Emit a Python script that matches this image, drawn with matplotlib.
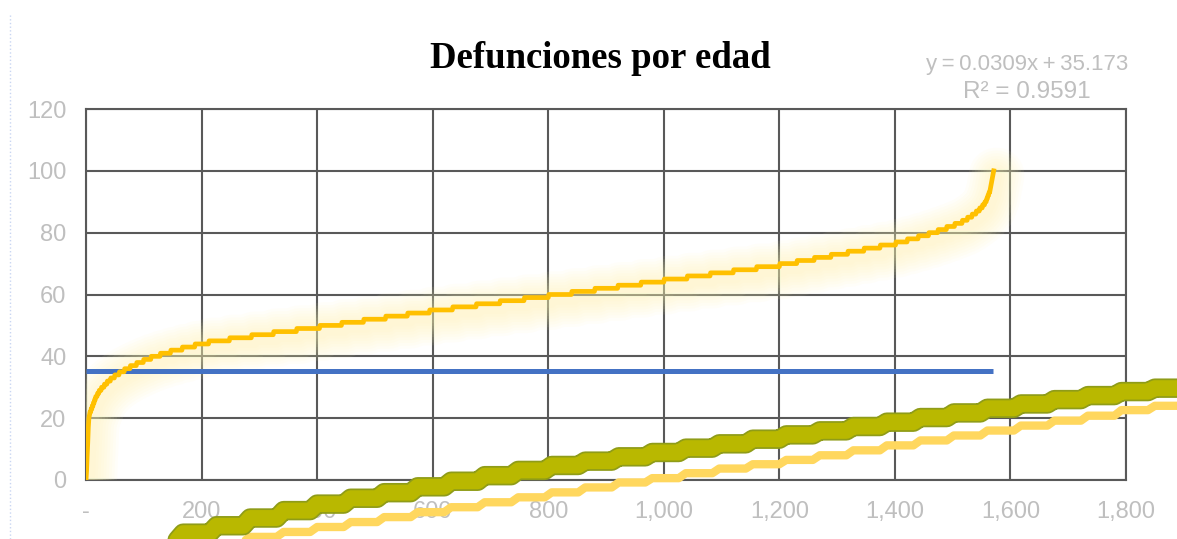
import numpy as np
import matplotlib
matplotlib.use("Agg")
import matplotlib.pyplot as plt
import matplotlib.patheffects as pe
from matplotlib.lines import Line2D

# deaths per age (ages 0..100), sorted ages are plotted against their rank
age_values = np.arange(101)
deaths_per_age = [
    1, 0, 0, 1, 0, 0, 0, 0, 1, 0, 0, 0, 1, 0, 0, 0, 0, 1, 0, 0,   # 0-19
    1, 1, 2, 2, 2,          # 20-24
    2, 2, 3, 3, 4,          # 25-29
    5, 5, 6, 7, 8,          # 30-34
    9, 10, 11, 12, 13,      # 35-39
    16, 18, 20, 22, 24,     # 40-44
    36, 38, 38, 40, 40,     # 45-49
    38, 38, 38, 38, 38,     # 50-54
    40, 41, 41, 42, 42,     # 55-59
    40, 40, 40, 40, 40,     # 60-64
    40, 40, 40, 40, 40,     # 65-69
    30, 30, 29, 29, 28, 28, 27,   # 70-76
    20, 19, 18,             # 77-79
    16, 15, 14, 13,         # 80-83
    9, 8, 7, 6, 5, 4,       # 84-89
    3, 2, 2, 2, 1, 1, 1, 1, 1, 1,  # 90-99
    1,                      # 100
]

# blue horizontal line
blue_x = [0, 1570]
blue_y = [35.2, 35.2]

# stray green band (drawn outside the plot area)
green_x = [60, 110, 168, 226, 284, 342, 400, 458, 516, 574, 632, 690, 748, 806, 864,
           922, 980, 1038, 1096, 1154, 1212, 1270, 1328, 1386, 1444, 1502, 1560,
           1618, 1676, 1734, 1792, 1850, 1908]
green_y = [-22.0, -19.8, -17.2, -14.8, -12.3, -9.9, -7.8, -5.9, -4.1, -2.2, -0.4, 1.4,
           3.1, 4.7, 6.1, 7.5, 8.9, 10.3, 11.7, 13.2, 14.6, 15.9, 17.3, 18.7,
           20.2, 21.7, 23.2, 24.6, 26.0, 27.3, 28.6, 29.7, 29.7]

# stray light-yellow stepped line below it
yellow_x = [226, 284, 342, 400, 458, 516, 574, 632, 690, 748, 806, 864, 922, 980,
            1038, 1096, 1154, 1212, 1270, 1328, 1386, 1444, 1502, 1560, 1618,
            1676, 1734, 1792, 1850, 1908]
yellow_y = [-20.0, -18.4, -16.8, -15.2, -13.6, -12.0, -10.4, -8.8, -7.2, -5.6, -4.0,
            -2.4, -0.8, 0.6, 2.2, 3.7, 5.1, 6.5, 8.0, 9.6, 11.2, 12.8, 14.4,
            16.0, 17.6, 19.2, 20.8, 22.6, 24.0, 24.0]

x_ticks = [0, 200, 400, 600, 800, 1000, 1200, 1400, 1600, 1800]
x_labels = ["-", "200", "400", "600", "800", "1,000", "1,200", "1,400", "1,600", "1,800"]
y_ticks = [0, 20, 40, 60, 80, 100, 120]


def slanted_steps(xs, ys, slant=12):
    # step line whose risers lean a little, like the smoothed original
    px, py = [], []
    for i in range(len(xs) - 1):
        px += [xs[i], xs[i + 1] - slant]
        py += [ys[i], ys[i]]
    px.append(xs[-1])
    py.append(ys[-1])
    return px, py


ages = np.repeat(age_values, deaths_per_age)
rank = np.arange(len(ages))

fig = plt.figure(figsize=(11.77, 5.39), dpi=100)
ax = fig.add_axes([86 / 1177, 59 / 539, 1040 / 1177, 371 / 539])

grid_col = "#595959"
ax.set_xlim(0, 1800)
ax.set_ylim(0, 120)
ax.set_xticks(x_ticks)
ax.set_xticklabels(x_labels)
ax.set_yticks(y_ticks)
ax.tick_params(length=0, labelsize=17, labelcolor="#bfbfbf")
ax.tick_params(axis="y", pad=14)
ax.tick_params(axis="x", pad=15)
for lab in ax.get_xticklabels() + ax.get_yticklabels():
    lab.set_fontfamily("Liberation Sans")
ax.grid(True, color=grid_col, linewidth=1.5)
ax.set_axisbelow(True)
for sp in ax.spines.values():
    sp.set_color(grid_col)
    sp.set_linewidth(1.5)
    sp.set_zorder(0.6)

# soft glow around the orange curve
for lw in range(40, 6, -4):
    ax.plot(rank + 5, ages - 1.5, color="#fff6b0", lw=lw, alpha=0.07,
            solid_capstyle="round", solid_joinstyle="round", zorder=1)

ax.plot(blue_x, blue_y, color="#4472c4", lw=3.6, solid_capstyle="butt", zorder=2)
ax.plot(rank, ages, color="#ffc000", lw=3.4, solid_joinstyle="round", zorder=3)

yx, yy = slanted_steps(yellow_x, yellow_y)
ax.plot(yx, yy, color="#ffd75e", lw=6, solid_joinstyle="round",
        solid_capstyle="round", clip_on=False, zorder=4)
gx, gy = slanted_steps(green_x, green_y)
ax.plot(gx, gy, color="#b9b800", lw=11.5, solid_joinstyle="round",
        solid_capstyle="round", clip_on=False, zorder=5,
        path_effects=[pe.Stroke(linewidth=14, foreground="#8f9c18"), pe.Normal()])

ax.text(1629, 134.3, "y\u2009=\u20090.0309x\u2009+\u200935.173", ha="center", va="center",
        fontsize=16, color="#bfbfbf", family="Liberation Sans", clip_on=False)
ax.text(1629, 125.6, "R² = 0.9591", ha="center", va="center",
        fontsize=17.5, color="#bfbfbf", family="Liberation Sans", clip_on=False)

fig.text(600 / 1177, 1 - 68 / 539, "Defunciones por edad", ha="center", va="baseline",
         fontsize=26.5, fontweight="bold", family="Liberation Serif")

fig.add_artist(Line2D([10 / 1177, 10 / 1177], [0, 1 - 13 / 539], color="#c9d6f2",
                      lw=1, linestyle=":", transform=fig.transFigure))

fig.savefig("out.png", dpi=100)
